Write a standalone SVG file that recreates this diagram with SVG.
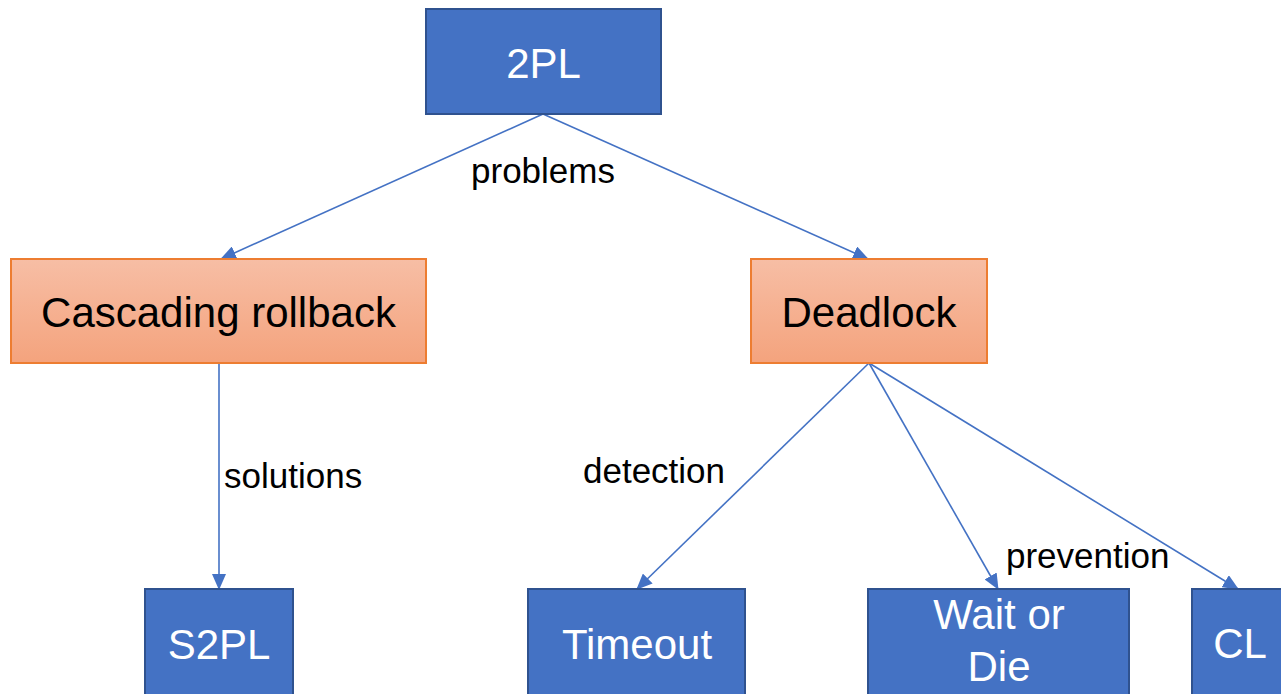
<svg xmlns="http://www.w3.org/2000/svg" width="1281" height="694" viewBox="0 0 1281 694">
  <style>
    .blue { fill: #4472C4; stroke: #2F528F; stroke-width: 2; }
    .orange { fill: url(#orangeFill); stroke: #ED7D31; stroke-width: 2; }
    .nodeText { font-family: "Liberation Sans", Arial, sans-serif; font-size: 42px; text-anchor: middle; }
    .light { fill: #FFFFFF; }
    .dark { fill: #000000; }
    .edge { fill: none; stroke: #4472C4; stroke-width: 1.6; marker-end: url(#arrow); }
    .edgeLabel { font-family: "Liberation Sans", Arial, sans-serif; font-size: 35px; fill: #000000; }
  </style>
  <defs>
    <linearGradient id="orangeFill" x1="0" y1="0" x2="0" y2="1">
      <stop offset="0" stop-color="#F7BEA5"/>
      <stop offset="1" stop-color="#F4A37D"/>
    </linearGradient>
    <marker id="arrow" markerUnits="userSpaceOnUse" markerWidth="16" markerHeight="14" viewBox="0 0 16 14" refX="15" refY="7" orient="auto">
      <path d="M0,0 L16,7 L0,14 Z" fill="#4472C4"/>
    </marker>
  </defs>

  <rect width="1281" height="694" fill="#FFFFFF"/>

  <!-- connectors -->
  <g id="connectors">
    <line class="edge" x1="543" y1="114" x2="221" y2="259"/>
    <line class="edge" x1="543" y1="114" x2="868" y2="259"/>
    <line class="edge" x1="219" y1="363" x2="219" y2="589"/>
    <line class="edge" x1="869" y1="363" x2="637" y2="589"/>
    <line class="edge" x1="869" y1="363" x2="998" y2="589"/>
    <line class="edge" x1="869" y1="363" x2="1238" y2="589"/>
    <text class="edgeLabel" x="543" y="183" text-anchor="middle">problems</text>
    <text class="edgeLabel" x="224" y="488">solutions</text>
    <text class="edgeLabel" x="583" y="483">detection</text>
    <text class="edgeLabel" x="1006" y="568">prevention</text>
  </g>

  <!-- nodes -->
  <g id="node-2pl">
    <rect class="blue" x="426" y="9" width="235" height="105"/>
    <text class="nodeText light" x="543.5" y="78">2PL</text>
  </g>
  <g id="node-cascading">
    <rect class="orange" x="11" y="259" width="415" height="104"/>
    <text class="nodeText dark" x="218.5" y="327">Cascading rollback</text>
  </g>
  <g id="node-deadlock">
    <rect class="orange" x="751" y="259" width="236" height="104"/>
    <text class="nodeText dark" x="869" y="327">Deadlock</text>
  </g>
  <g id="node-s2pl">
    <rect class="blue" x="145" y="589" width="148" height="130"/>
    <text class="nodeText light" x="219" y="659">S2PL</text>
  </g>
  <g id="node-timeout">
    <rect class="blue" x="528" y="589" width="217" height="130"/>
    <text class="nodeText light" x="637" y="659">Timeout</text>
  </g>
  <g id="node-waitordie">
    <rect class="blue" x="868" y="589" width="261" height="130"/>
    <text class="nodeText light" x="999" y="629">Wait or</text>
    <text class="nodeText light" x="999" y="681">Die</text>
  </g>
  <g id="node-cl">
    <rect class="blue" x="1192" y="589" width="120" height="130"/>
    <text class="nodeText light" x="1240" y="658">CL</text>
  </g>
</svg>
